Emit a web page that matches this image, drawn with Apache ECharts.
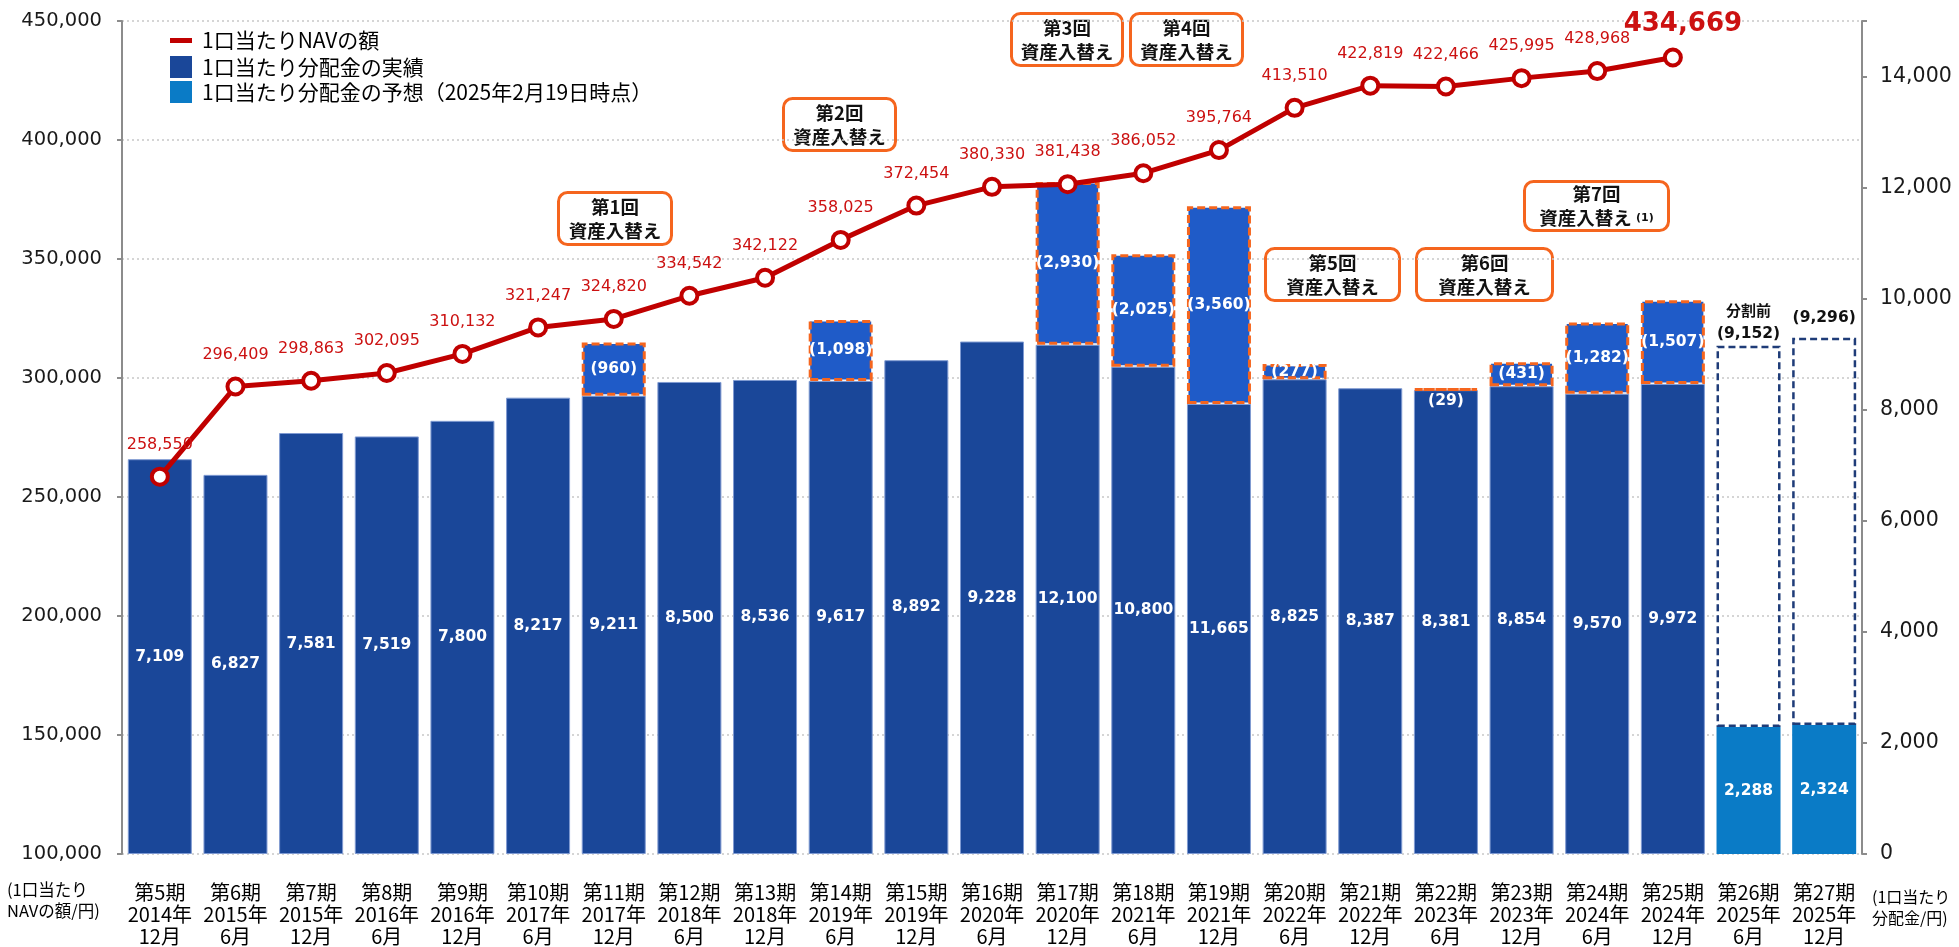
<!DOCTYPE html>
<html>
<head>
<meta charset="utf-8">
<style>
  html, body { margin: 0; padding: 0; background: #fff; }
  #main { width: 1959px; height: 947px; }
</style>
<script src="https://cdn.jsdelivr.net/npm/echarts@6/dist/echarts.min.js"></script>
</head>
<body>
<div id="main"></div>
<script>
// 期と決算年月
const periods = ['第5期', '第6期', '第7期', '第8期', '第9期', '第10期', '第11期', '第12期', '第13期', '第14期', '第15期', '第16期',
  '第17期', '第18期', '第19期', '第20期', '第21期', '第22期', '第23期', '第24期', '第25期', '第26期', '第27期'];
const periodDates = ['2014年\n12月', '2015年\n6月', '2015年\n12月', '2016年\n6月', '2016年\n12月', '2017年\n6月', '2017年\n12月',
  '2018年\n6月', '2018年\n12月', '2019年\n6月', '2019年\n12月', '2020年\n6月', '2020年\n12月', '2021年\n6月', '2021年\n12月',
  '2022年\n6月', '2022年\n12月', '2023年\n6月', '2023年\n12月', '2024年\n6月', '2024年\n12月', '2025年\n6月', '2025年\n12月'];

// 1口当たりNAVの額
const navValues = [258550, 296409, 298863, 302095, 310132, 321247, 324820, 334542, 342122, 358025, 372454, 380330,
  381438, 386052, 395764, 413510, 422819, 422466, 425995, 428968, 434669, null, null];

// 1口当たり分配金の実績（合計）と、そのうち資産入替えによる上乗せ分
const distActual = [7109, 6827, 7581, 7519, 7800, 8217, 9211, 8500, 8536, 9617, 8892, 9228,
  12100, 10800, 11665, 8825, 8387, 8381, 8854, 9570, 9972, null, null];
const distExtra = [null, null, null, null, null, null, 960, null, null, 1098, null, null,
  2930, 2025, 3560, 277, null, 29, 431, 1282, 1507, null, null];

// 予想（分割後）と分割前の値
const distForecast = [null, null, null, null, null, null, null, null, null, null, null, null,
  null, null, null, null, null, null, null, null, null, 2288, 2324];
const distBeforeSplit = [null, null, null, null, null, null, null, null, null, null, null, null,
  null, null, null, null, null, null, null, null, null, 9152, 9296];

// 左右の軸目盛
const navTicks = { min: 100000, max: 450000, interval: 50000 };
const distTicks = { min: 0, max: 15000, interval: 2000 };

// 資産入替えの吹き出し
const swapNotes = [
  { text: '第1回\n資産入替え', x: 557, y: 191, w: 113, h: 52 },
  { text: '第2回\n資産入替え', x: 782, y: 97, w: 112, h: 52 },
  { text: '第3回\n資産入替え', x: 1010, y: 12, w: 111, h: 52 },
  { text: '第4回\n資産入替え', x: 1129, y: 12, w: 112, h: 52 },
  { text: '第5回\n資産入替え', x: 1264, y: 247, w: 134, h: 52 },
  { text: '第6回\n資産入替え', x: 1415, y: 247, w: 136, h: 52 },
  { text: '第7回\n資産入替え {s|(1)}', x: 1523, y: 180, w: 144, h: 49 }
];

const fmt = v => Number(v).toLocaleString('en-US');
const numFont = 'DejaVu Sans';
const jpFont = 'Noto Sans CJK JP';

const categories = periods.map((p, i) => p + '\n' + periodDates[i]);
const lastNav = navValues.filter(v => v != null).length - 1;

const chart = echarts.init(document.getElementById('main'));

const whiteLabel = { show: true, position: 'inside', color: '#fff', fontFamily: numFont, fontWeight: 'bold', fontSize: 15.5 };

chart.setOption({
  animation: false,
  backgroundColor: '#fff',
  grid: { left: 122, right: 97, top: 21, bottom: 86 },
  legend: [
    {
      left: 170, top: 30, padding: 0, itemWidth: 22, itemHeight: 5, icon: 'rect', selectedMode: false,
      data: [{ name: '1口当たりNAVの額', itemStyle: { color: '#c00000', borderWidth: 0 } }],
      textStyle: { color: '#000', fontFamily: jpFont, fontSize: 21, padding: [0, 0, 0, 5] }
    },
    {
      left: 170, top: 56, padding: 0, orient: 'vertical', itemGap: 3, itemWidth: 22, itemHeight: 22, icon: 'rect',
      selectedMode: false, itemStyle: { borderWidth: 0 },
      data: ['1口当たり分配金の実績', '1口当たり分配金の予想（2025年2月19日時点）'],
      textStyle: { color: '#000', fontFamily: jpFont, fontSize: 21, padding: [0, 0, 0, 5] }
    }
  ],
  xAxis: {
    type: 'category',
    data: categories,
    axisLine: { show: false },
    axisTick: { show: false },
    axisLabel: { interval: 0, color: '#000', fontFamily: jpFont, fontSize: 20, lineHeight: 22, margin: 27 }
  },
  yAxis: [
    {
      type: 'value', min: navTicks.min, max: navTicks.max, interval: navTicks.interval,
      axisLine: { show: true, lineStyle: { color: '#8c8c8c', width: 2 } },
      axisTick: { show: true, length: 5, lineStyle: { color: '#8c8c8c', width: 2 } },
      splitLine: { show: true, lineStyle: { color: '#c8c8c8', width: 1.5, type: [2, 3] } },
      axisLabel: { formatter: fmt, color: '#1a1a1a', fontFamily: numFont, fontSize: 19.5, margin: 20 }
    },
    {
      type: 'value', min: distTicks.min, max: distTicks.max, interval: distTicks.interval,
      axisLine: { show: true, lineStyle: { color: '#8c8c8c', width: 2 } },
      axisTick: { show: true, length: 5, lineStyle: { color: '#8c8c8c', width: 2 } },
      splitLine: { show: false },
      axisLabel: {
        formatter: v => (v === distTicks.max ? '' : fmt(v)),
        color: '#1a1a1a', fontFamily: numFont, fontSize: 20.5, margin: 18
      }
    }
  ],
  series: [
    {
      name: '1口当たり分配金の実績',
      type: 'bar', stack: 'dist', yAxisIndex: 1, barWidth: 64,
      data: distActual.map((v, i) => (v == null ? null : v - (distExtra[i] || 0))),
      itemStyle: { color: '#1a4799', borderColor: '#7f9ad2', borderWidth: 1 },
      label: Object.assign({}, whiteLabel, { formatter: p => fmt(distActual[p.dataIndex]) })
    },
    {
      name: '上乗せ',
      type: 'bar', stack: 'dist', yAxisIndex: 1, barWidth: 64,
      data: distExtra.map(v => (v != null && v < 100 ? { value: v, label: { position: 'bottom', distance: 2 } } : v)),
      itemStyle: { color: '#1f5bc8', borderColor: '#f5651e', borderWidth: 3, borderType: [8, 4] },
      label: Object.assign({}, whiteLabel, { formatter: p => '(' + fmt(p.value) + ')' })
    },
    {
      name: '1口当たり分配金の予想（2025年2月19日時点）',
      type: 'bar', stack: 'dist', yAxisIndex: 1, barWidth: 64,
      data: distForecast,
      itemStyle: { color: '#0a7bc6' },
      label: Object.assign({}, whiteLabel, { formatter: p => fmt(p.value) })
    },
    {
      name: '分割前',
      type: 'bar', stack: 'dist', yAxisIndex: 1, barWidth: 64,
      data: distBeforeSplit.map((v, i) => {
        if (v == null) return null;
        const first = i === distBeforeSplit.findIndex(x => x != null);
        return {
          value: v - distForecast[i],
          label: first
            ? { formatter: '{a|分割前}\n{b|(' + fmt(v) + ')}', distance: 1 }
            : { formatter: '{b|(' + fmt(v) + ')}', distance: 9 }
        };
      }),
      itemStyle: { color: 'rgba(0,0,0,0)', borderColor: '#1f3c78', borderWidth: 2.5, borderType: [7, 4] },
      label: {
        show: true, position: 'top',
        rich: {
          a: { fontFamily: jpFont, fontWeight: 'bold', fontSize: 15, color: '#111', lineHeight: 24 },
          b: { fontFamily: numFont, fontWeight: 'bold', fontSize: 15.5, color: '#111', lineHeight: 22 }
        }
      }
    },
    {
      name: '1口当たりNAVの額',
      type: 'line', yAxisIndex: 0, z: 10,
      data: navValues.map((v, i) => (i === lastNav
        ? { value: v, label: { fontSize: 26, fontWeight: 'bold', distance: 10, offset: [10, 0] } }
        : v)),
      symbol: 'circle', symbolSize: 16,
      lineStyle: { color: '#c00000', width: 5 },
      itemStyle: { color: '#fff', borderColor: '#c00000', borderWidth: 4 },
      label: { show: true, position: 'top', distance: 14, color: '#cc1111', fontFamily: numFont, fontSize: 16, formatter: p => fmt(p.value) }
    }
  ],
  graphic: [
    {
      type: 'text', left: 7, top: 879,
      style: { text: '(1口当たり\nNAVの額/円)', fill: '#000', font: '16.5px "Noto Sans CJK JP"', lineHeight: 21 }
    },
    {
      type: 'text', left: 1872, top: 886,
      style: { text: '(1口当たり\n分配金/円)', fill: '#000', font: '16px "Noto Sans CJK JP"', lineHeight: 21 }
    }
  ].concat(swapNotes.map(n => ({
    type: 'group', left: n.x, top: n.y,
    children: [
      {
        type: 'rect', shape: { x: 0, y: 0, width: n.w, height: n.h, r: 9 },
        style: { fill: '#fff', stroke: '#f5651e', lineWidth: 3 }
      },
      {
        type: 'text', x: n.w / 2, y: n.h / 2,
        style: {
          text: n.text, align: 'center', verticalAlign: 'middle', fill: '#111',
          font: 'bold 18.5px "Noto Sans CJK JP"', lineHeight: 24,
          rich: { s: { font: 'bold 11px "DejaVu Sans"', fill: '#111', lineHeight: 24 } }
        }
      }
    ]
  })))
});
</script>
</body>
</html>
